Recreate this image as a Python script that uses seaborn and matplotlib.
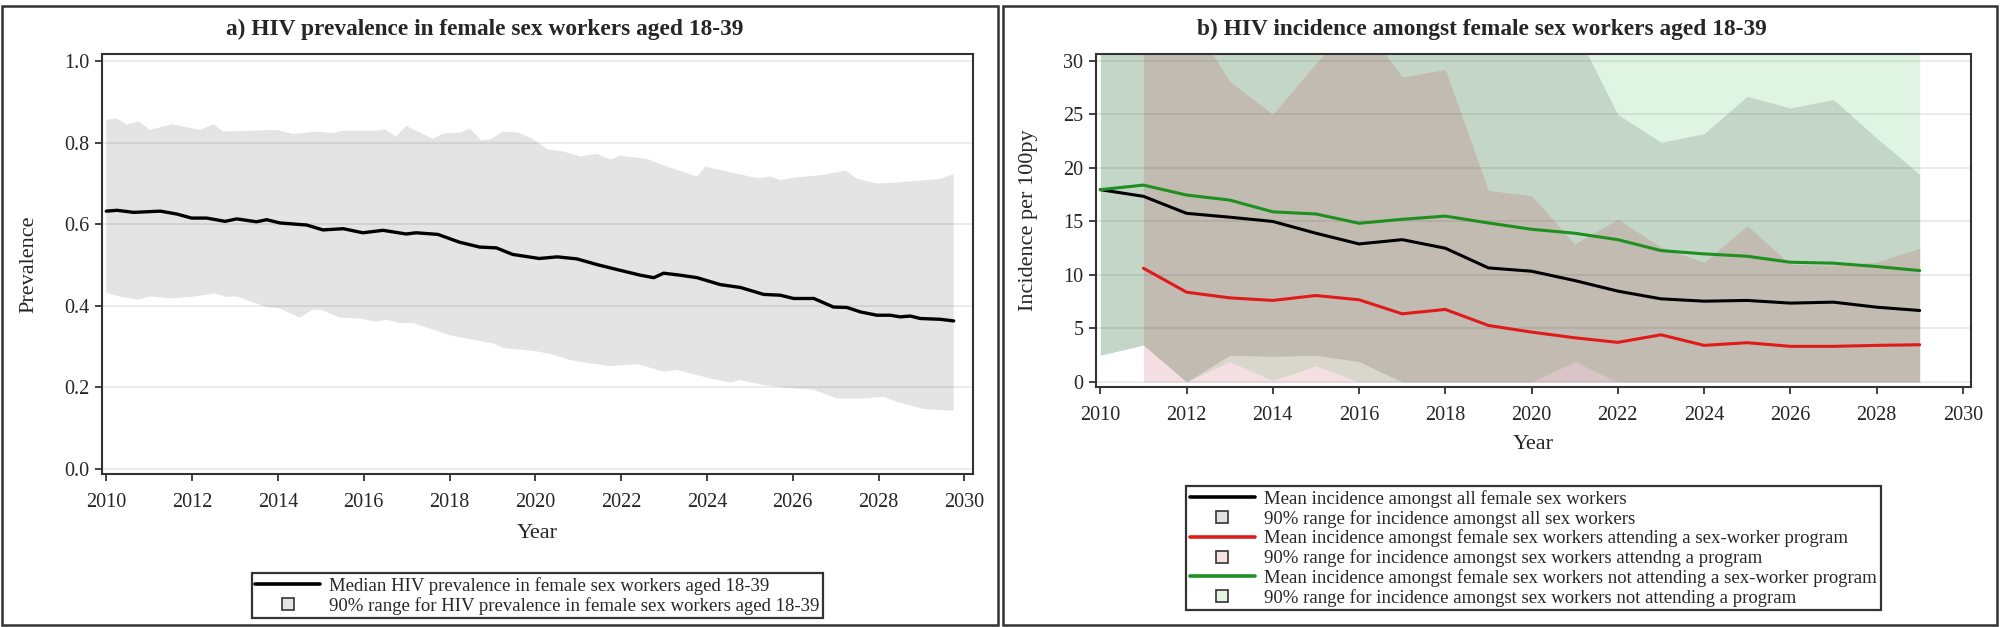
import matplotlib
matplotlib.use("Agg")
import matplotlib.pyplot as plt
from matplotlib.lines import Line2D
from matplotlib.patches import Rectangle
import seaborn as sns

# ---- panel a: HIV prevalence
prev_med_years = [2010.0, 2010.25, 2010.64, 2011.26, 2011.64, 2011.99, 2012.34, 2012.77, 2013.04,
                  2013.5, 2013.74, 2014.05, 2014.67, 2015.05, 2015.52, 2015.98, 2016.45, 2016.99,
                  2017.22, 2017.73, 2018.23, 2018.7, 2019.09, 2019.47, 2020.09, 2020.51, 2020.97,
                  2021.44, 2021.9, 2022.45, 2022.76, 2022.99, 2023.38, 2023.77, 2024.31, 2024.78,
                  2025.32, 2025.71, 2026.02, 2026.49, 2026.95, 2027.26, 2027.58, 2027.96, 2028.27,
                  2028.5, 2028.74, 2028.97, 2029.44, 2029.75]
prev_med = [0.632, 0.634, 0.629, 0.632, 0.625, 0.615, 0.615, 0.607, 0.613,
            0.606, 0.611, 0.603, 0.598, 0.586, 0.589, 0.579, 0.585, 0.576,
            0.579, 0.575, 0.556, 0.544, 0.542, 0.526, 0.516, 0.520, 0.515,
            0.501, 0.489, 0.475, 0.469, 0.480, 0.475, 0.469, 0.452, 0.445,
            0.428, 0.426, 0.418, 0.418, 0.397, 0.396, 0.385, 0.377, 0.377,
            0.373, 0.375, 0.369, 0.367, 0.363]

prev_hi_years = [2010.0, 2010.25, 2010.48, 2010.75, 2011.02, 2011.53, 2012.19, 2012.5, 2012.73,
                 2013.97, 2014.36, 2014.9, 2015.29, 2015.52, 2016.22, 2016.49, 2016.76, 2016.99,
                 2017.61, 2017.84, 2018.27, 2018.47, 2018.74, 2018.97, 2019.24, 2019.59, 2019.94,
                 2020.27, 2020.66, 2021.05, 2021.44, 2021.75, 2021.98, 2022.6, 2023.15, 2023.77,
                 2023.96, 2024.55, 2025.17, 2025.48, 2025.71, 2026.1, 2026.72, 2027.23, 2027.5,
                 2027.96, 2028.43, 2028.74, 2029.44, 2029.75]
prev_hi = [0.856, 0.859, 0.844, 0.852, 0.831, 0.845, 0.831, 0.845, 0.827,
           0.831, 0.821, 0.827, 0.823, 0.829, 0.829, 0.832, 0.815, 0.841,
           0.809, 0.822, 0.825, 0.835, 0.805, 0.809, 0.827, 0.825, 0.809,
           0.784, 0.778, 0.766, 0.772, 0.758, 0.768, 0.760, 0.738, 0.717,
           0.741, 0.727, 0.713, 0.717, 0.708, 0.715, 0.721, 0.731, 0.711,
           0.700, 0.702, 0.705, 0.711, 0.723]

prev_lo_years = [2010.0, 2010.33, 2010.75, 2011.02, 2011.49, 2011.99, 2012.53, 2012.81, 2013.04,
                 2013.74, 2014.05, 2014.51, 2014.82, 2015.05, 2015.44, 2015.91, 2016.29, 2016.53,
                 2016.84, 2017.15, 2017.61, 2018.0, 2018.39, 2019.01, 2019.24, 2019.63, 2020.0,
                 2020.35, 2020.82, 2021.28, 2021.75, 2022.37, 2022.99, 2023.3, 2024.08, 2024.55,
                 2024.78, 2025.32, 2025.79, 2026.49, 2027.03, 2027.65, 2028.12, 2028.43, 2029.05,
                 2029.75]
prev_lo = [0.432, 0.422, 0.415, 0.423, 0.418, 0.422, 0.430, 0.422, 0.423,
           0.397, 0.393, 0.371, 0.391, 0.389, 0.371, 0.369, 0.361, 0.366,
           0.358, 0.358, 0.342, 0.328, 0.320, 0.308, 0.297, 0.293, 0.289,
           0.282, 0.267, 0.259, 0.252, 0.257, 0.239, 0.243, 0.222, 0.212,
           0.218, 0.206, 0.200, 0.194, 0.173, 0.173, 0.177, 0.165, 0.147,
           0.143]

# ---- panel b: HIV incidence per 100py
years_all = list(range(2010, 2030))
years_prog = list(range(2011, 2030))

inc_all = [17.97, 17.35, 15.76, 15.4, 15.0, 13.9, 12.9, 13.3, 12.5, 10.66,
           10.35, 9.48, 8.49, 7.77, 7.55, 7.62, 7.37, 7.46, 6.99, 6.68]
inc_all_lo = [2.5, 3.45, 0, 2.5, 2.4, 2.5, 1.9, 0, 0, 0,
              0, 0, 0, 0, 0, 0, 0, 0, 0, 0]
inc_all_hi = [34, 34, 34, 34, 34, 34, 34, 34, 34, 34,
              34, 33, 25.0, 22.4, 23.2, 26.7, 25.6, 26.4, 22.8, 19.4]

inc_prog = [10.63, 8.39, 7.86, 7.62, 8.08, 7.68, 6.37, 6.78, 5.28, 4.66,
            4.13, 3.70, 4.41, 3.42, 3.67, 3.33, 3.33, 3.42, 3.48]
inc_prog_lo = [0] * 19
inc_prog_hi = [34, 34.5, 28.1, 25.0, 29.8, 34, 28.5, 29.2, 17.9, 17.4,
               12.9, 15.2, 12.6, 11.2, 14.6, 11.0, 10.9, 11.2, 12.5]

inc_noprog = [17.97, 18.4, 17.47, 17.0, 15.9, 15.7, 14.83, 15.2, 15.5, 14.86,
              14.27, 13.9, 13.3, 12.28, 11.97, 11.75, 11.19, 11.1, 10.79, 10.41]
inc_noprog_lo = [2.5, 3.45, 0, 1.9, 0.15, 1.5, 0, 0, 0, 0,
                 0, 1.9, 0, 0, 0, 0, 0, 0, 0, 0]
inc_noprog_hi = [34] * 20

sns.set_theme(style="white")
plt.rcParams["font.family"] = ["Liberation Serif", "DejaVu Serif"]

W, H = 2000, 627
fig = plt.figure(figsize=(W / 100, H / 100), dpi=100)

# outer panel boxes
for x0, x1 in [(2, 998), (1003, 1997)]:
    fig.patches.append(Rectangle((x0 / W, 2 / H), (x1 - x0) / W, (621 - 2) / H,
                                 transform=fig.transFigure, fill=False,
                                 edgecolor="#333333", linewidth=1.8))

ax1 = fig.add_axes([102 / W, 1 - 474 / H, 871 / W, 420 / H])
ax2 = fig.add_axes([1096 / W, 1 - 387 / H, 875 / W, 333 / H])

TICK_FS = 14.5
LAB_FS = 16
LEG_FS = 13.5
TITLE_FS = 16.8


def style_axes(ax):
    for s in ax.spines.values():
        s.set_visible(True)
        s.set_color("#333333")
        s.set_linewidth(1.5)
    ax.tick_params(axis="both", which="major", direction="out", length=5, width=1.3,
                   color="#333333", labelsize=TICK_FS, left=True, bottom=True)
    ax.tick_params(axis="x", pad=9)
    ax.tick_params(axis="y", pad=4)
    ax.yaxis.grid(True, color="#e8e8e8", linewidth=1.2)
    ax.xaxis.grid(False)
    ax.set_axisbelow(True)


# ---- panel a
style_axes(ax1)
band_x = prev_hi_years + prev_lo_years[::-1]
band_y = prev_hi + prev_lo[::-1]
ax1.fill(band_x, band_y, color="black", alpha=0.105, linewidth=0, zorder=2)
sns.lineplot(x=prev_med_years, y=prev_med, ax=ax1, color="black", linewidth=2.4, zorder=3)
ax1.set_xlim(2009.9, 2030.2)
ax1.set_ylim(-0.012, 1.017)
ax1.set_xticks(range(2010, 2031, 2))
ax1.set_yticks([0.0, 0.2, 0.4, 0.6, 0.8, 1.0])
ax1.set_yticklabels([f"{v:.1f}" for v in [0.0, 0.2, 0.4, 0.6, 0.8, 1.0]])
ax1.set_xlabel("Year", fontsize=LAB_FS)
ax1.set_ylabel("Prevalence", fontsize=LAB_FS)
ax1.xaxis.set_label_coords(0.5, -0.118)
ax1.yaxis.set_label_coords(-0.073, 0.5)

h1 = [Line2D([], [], color="black", linewidth=2.6),
      Line2D([], [], marker="s", markersize=9, markerfacecolor="#e4e4e4",
             markeredgecolor="#333333", markeredgewidth=1.2, linestyle="none")]
l1 = ["Median HIV prevalence in female sex workers aged 18-39",
      "90% range for HIV prevalence in female sex workers aged 18-39"]
leg1 = ax1.legend(h1, l1, loc="upper center", bbox_to_anchor=(0.5, -0.214),
                  fontsize=LEG_FS, frameon=True, fancybox=False, borderpad=0.2,
                  handlelength=3.45, handletextpad=0.5, labelspacing=0.1)
leg1.get_frame().set_edgecolor("black")
leg1.get_frame().set_linewidth(1.6)

# ---- panel b
style_axes(ax2)
ax2.fill_between(years_all, inc_noprog_lo, inc_noprog_hi, color=(0, 172 / 255, 30 / 255),
                 alpha=0.12, linewidth=0, zorder=2)
ax2.fill_between(years_all, inc_all_lo, inc_all_hi, color="black",
                 alpha=0.12, linewidth=0, zorder=2)
ax2.fill_between(years_prog, inc_prog_lo, inc_prog_hi, color=(172 / 255, 0, 30 / 255),
                 alpha=0.12, linewidth=0, zorder=2)
sns.lineplot(x=years_all, y=inc_all, ax=ax2, color="black", linewidth=2.2, zorder=3)
sns.lineplot(x=years_prog, y=inc_prog, ax=ax2, color="#e01a1a", linewidth=2.2, zorder=3)
sns.lineplot(x=years_all, y=inc_noprog, ax=ax2, color="#1f8f1f", linewidth=2.2, zorder=3)
ax2.set_xlim(2009.9, 2030.19)
ax2.set_ylim(-0.47, 30.65)
ax2.set_xticks(range(2010, 2031, 2))
ax2.set_yticks(range(0, 31, 5))
ax2.set_xlabel("Year", fontsize=LAB_FS)
ax2.set_ylabel("Incidence per 100py", fontsize=LAB_FS)
ax2.xaxis.set_label_coords(0.5, -0.145)
ax2.yaxis.set_label_coords(-0.066, 0.5)


def sq(fc):
    return Line2D([], [], marker="s", markersize=9, markerfacecolor=fc,
                  markeredgecolor="#333333", markeredgewidth=1.2, linestyle="none")


h2 = [Line2D([], [], color="black", linewidth=2.6), sq("#e1e1e1"),
      Line2D([], [], color="#e01a1a", linewidth=2.6), sq("#f5e1e4"),
      Line2D([], [], color="#1f8f1f", linewidth=2.6), sq("#e1f5e4")]
l2 = ["Mean incidence amongst all female sex workers",
      "90% range for incidence amongst all sex workers",
      "Mean incidence amongst female sex workers attending a sex-worker program",
      "90% range for incidence amongst sex workers attendng a program",
      "Mean incidence amongst female sex workers not attending a sex-worker program",
      "90% range for incidence amongst sex workers not attending a program"]
leg2 = ax2.legend(h2, l2, loc="upper center", bbox_to_anchor=(0.5, -0.27),
                  fontsize=LEG_FS, frameon=True, fancybox=False, borderpad=0.2,
                  handlelength=3.45, handletextpad=0.5, labelspacing=0.1)
leg2.get_frame().set_edgecolor("black")
leg2.get_frame().set_linewidth(1.6)

fig.text(485 / W, 1 - 29 / H, "a) HIV prevalence in female sex workers aged 18-39",
         ha="center", va="center", fontsize=TITLE_FS, fontweight="bold")
fig.text(1482 / W, 1 - 29 / H, "b) HIV incidence amongst female sex workers aged 18-39",
         ha="center", va="center", fontsize=TITLE_FS, fontweight="bold")

fig.savefig("out.png", dpi=100)
